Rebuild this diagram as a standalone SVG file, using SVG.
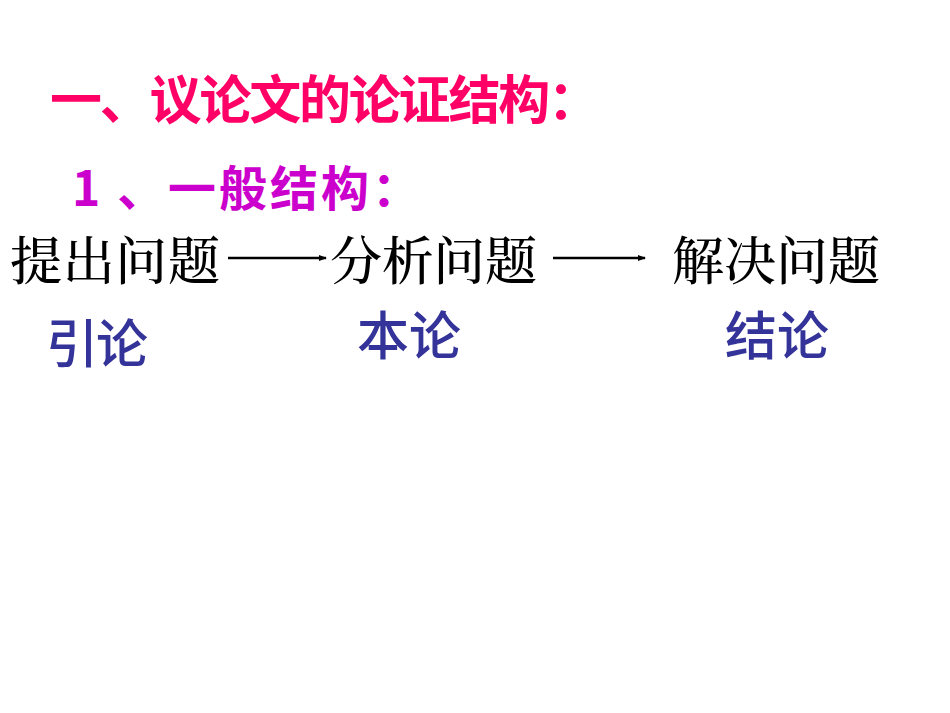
<svg xmlns="http://www.w3.org/2000/svg" width="950" height="713" viewBox="0 0 950 713">
<style>
.t{font-family:"Noto Sans CJK SC",sans-serif;font-weight:bold}
.s{font-family:"Noto Serif CJK SC","Noto Sans CJK SC",serif;font-size:52px;fill:#000;font-weight:500}
.b{font-family:"Noto Sans CJK SC",sans-serif;font-size:52px;fill:#333399;font-weight:500}
</style>
<defs><marker id="a" markerWidth="8" markerHeight="8" refX="7" refY="4" orient="auto" markerUnits="userSpaceOnUse"><path d="M0,1 L8,4 L0,7z" fill="#000"/></marker></defs>
<rect width="950" height="713" fill="#fff"/>
<text class="t" x="50" y="119" font-size="52" fill="#FF0066" textLength="550">一、议论文的论证结构：</text>
<text class="t" x="72" y="206" font-size="48" fill="#CC00CC" textLength="348">1  、一般结构：</text>
<g id="n1"><text class="s" x="10" y="280" textLength="210">提出问题</text></g>
<g id="n2"><text class="s" x="330" y="280" textLength="207">分析问题</text></g>
<g id="n3"><text class="s" x="672" y="280" textLength="208">解决问题</text></g>
<g id="edges" stroke="#000" stroke-width="2.5" marker-end="url(#a)">
<line x1="228" y1="258" x2="326" y2="258"/>
<line x1="553" y1="258" x2="645" y2="258"/>
</g>
<g id="l1"><text class="b" x="46" y="363" textLength="102">引论</text></g>
<g id="l2"><text class="b" x="357" y="355" textLength="104">本论</text></g>
<g id="l3"><text class="b" x="725" y="355" textLength="104">结论</text></g>
</svg>
